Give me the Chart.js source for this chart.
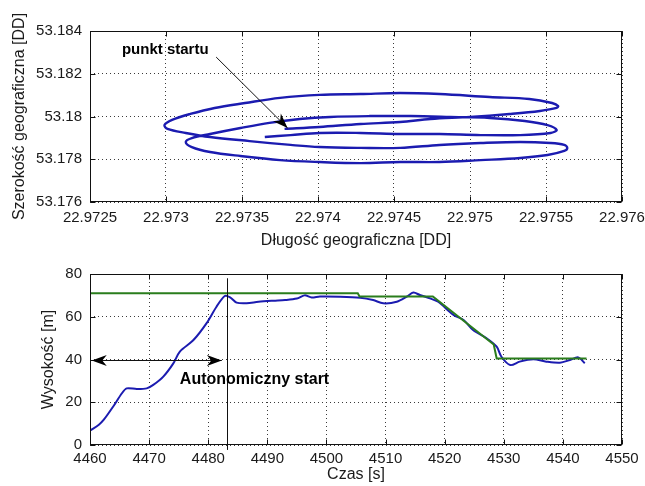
<!DOCTYPE html>
<html>
<head>
<meta charset="utf-8">
<script src="https://cdn.jsdelivr.net/npm/chart.js@4.4.0/dist/chart.umd.min.js"></script>
<style>
	html, body { margin: 0; padding: 0; background: #fff; }
	#wrap { position: relative; width: 645px; height: 486px; }
	canvas { position: absolute; left: 0; }
	#gps { top: 0; }
	#alt { top: 250px; }
</style>
</head>
<body>
<div id="wrap">
	<canvas id="gps" width="645" height="250"></canvas>
	<canvas id="alt" width="645" height="236"></canvas>
</div>
<script>
'use strict';

// GPS track (upper plot).
var gpsLon = [
	22.97378, 22.97401, 22.97428, 22.97454, 22.97474, 22.97500, 22.97526, 22.97546, 22.97557, 22.97558,
	22.97554, 22.97539, 22.97513, 22.97480, 22.97454, 22.97428, 22.97401, 22.97375, 22.97352, 22.97332,
	22.97316, 22.97304, 22.97299, 22.97301, 22.97313, 22.97329, 22.97355, 22.97382, 22.97401, 22.97428,
	22.97454, 22.97480, 22.97507, 22.97533, 22.97553, 22.97562, 22.97564, 22.97562, 22.97551, 22.97533,
	22.97507, 22.97480, 22.97454, 22.97428, 22.97401, 22.97375, 22.97349, 22.97329, 22.97317, 22.97313,
	22.97317, 22.97329, 22.97349, 22.97368, 22.97388, 22.97408, 22.97434, 22.97461, 22.97487, 22.97513,
	22.97536, 22.97551, 22.97557, 22.97553, 22.97533, 22.97507, 22.97480, 22.97454, 22.97428, 22.97401,
	22.97382, 22.97365
];
var gpsLat = [
	53.17942, 53.17951, 53.17965, 53.17974, 53.17988, 53.17998, 53.18012, 53.18026, 53.18040, 53.18049,
	53.18063, 53.18082, 53.18091, 53.18105, 53.18110, 53.18105, 53.18101, 53.18087, 53.18063, 53.18040,
	53.18012, 53.17984, 53.17960, 53.17942, 53.17923, 53.17904, 53.17885, 53.17867, 53.17857, 53.17853,
	53.17853, 53.17867, 53.17876, 53.17881, 53.17876, 53.17867, 53.17853, 53.17839, 53.17820, 53.17806,
	53.17796, 53.17787, 53.17787, 53.17782, 53.17787, 53.17796, 53.17815, 53.17834, 53.17857, 53.17881,
	53.17899, 53.17918, 53.17946, 53.17970, 53.17988, 53.17998, 53.18002, 53.18002, 53.17998, 53.17993,
	53.17979, 53.17960, 53.17937, 53.17923, 53.17913, 53.17913, 53.17918, 53.17918, 53.17923, 53.17923,
	53.17913, 53.17904
];
var lonTicks = [ 22.9725, 22.973, 22.9735, 22.974, 22.9745, 22.975, 22.9755, 22.976 ];
var latTicks = [ 53.176, 53.178, 53.18, 53.182, 53.184 ];

// Altitude (lower plot).
var timeS = [
	4460, 4461.5, 4462.3, 4463.9, 4465.4, 4466.2, 4467.9, 4469.6, 4470.7, 4472.4,
	4474.1, 4475.2, 4477.5, 4479.7, 4481.4, 4482.8, 4483.7, 4484.8, 4486.5, 4488.5,
	4491, 4493, 4495, 4496.3, 4497.5, 4498.9, 4502.3, 4505.7, 4507.9, 4509.6,
	4511.9, 4513.6, 4514.7, 4515.8, 4517.5, 4518.9, 4521.5, 4523.2, 4524.8, 4527.1,
	4528.8, 4529.6, 4531.1, 4532.7, 4535, 4537.2, 4539.5, 4541.2, 4542.6, 4543.7
];
var altM = [
	6.7, 9.5, 11.7, 17.9, 24.2, 26.5, 26.2, 26.5, 28.1, 32,
	38.2, 43.7, 49.1, 56.9, 64.7, 69.7, 69.1, 66.6, 66.3, 67,
	67.5, 67.8, 68.5, 70, 69, 69.5, 69.4, 68.9, 67.8, 66.3,
	67, 69.4, 71.3, 70.2, 68.6, 67, 60.8, 58.5, 53.8, 49.9,
	46, 41.3, 37.4, 39, 40.1, 39, 38.5, 39.8, 41, 38.2
];
var setTime = [ 4460, 4505.3, 4505.6, 4518, 4528.3, 4528.8, 4544 ];
var setAlt  = [ 71, 71, 69.5, 69.5, 47, 40.5, 40.5 ];
var timeTicks = [ 4460, 4470, 4480, 4490, 4500, 4510, 4520, 4530, 4540, 4550 ];
var altTicks  = [ 0, 20, 40, 60, 80 ];

var BLUE  = '#1b1bb0';
var GREEN = '#2a7d1c';
var FONT  = '"Liberation Sans", Arial, sans-serif';

function toPoints( xs, ys ) {
	return xs.map( function ( v, i ) { return { x: v, y: ys[ i ] }; } );
}

function fixedTicks( list ) {
	return function ( scale ) {
		scale.ticks = list.map( function ( v ) { return { value: v }; } );
	};
}

function axis( opts ) {
	return {
		type: 'linear',
		min: opts.min,
		max: opts.max,
		afterBuildTicks: fixedTicks( opts.ticks ),
		afterFit: function ( scale ) {
			if ( opts.width ) { scale.width = opts.width; }
			if ( opts.height ) { scale.height = opts.height; }
			scale.paddingLeft = 0;
			scale.paddingRight = 0;
			scale.paddingTop = 0;
			scale.paddingBottom = 0;
		},
		grid: { color: '#3a3a3a', lineWidth: 1, drawTicks: false },
		border: { display: false, dash: [ 1, 3 ] },
		ticks: {
			autoSkip: false,
			maxRotation: 0,
			padding: opts.pad,
			color: '#1a1a1a',
			font: { family: FONT, size: 15 },
			callback: function ( v ) { return String( v ); }
		},
		title: {
			display: true,
			text: opts.title,
			color: '#1a1a1a',
			font: { family: FONT, size: 16 },
			padding: { top: 0, bottom: opts.titlePad || 0 }
		}
	};
}

function arrowHead( ctx, x, y, angle, len, half ) {
	ctx.save();
	ctx.translate( x, y );
	ctx.rotate( angle );
	ctx.beginPath();
	ctx.moveTo( 0, 0 );
	ctx.lineTo( -len, -half );
	ctx.lineTo( -len * 0.7, 0 );
	ctx.lineTo( -len, half );
	ctx.closePath();
	ctx.fill();
	ctx.restore();
}

// Annotations for each canvas, drawn after the frame.
var annotations = {
	gps: function ( ctx, xs, ys ) {
		var x0 = xs.getPixelForValue( 22.97333 );
		var y0 = ys.getPixelForValue( 53.18278 );
		var x1 = xs.getPixelForValue( 22.97380 );
		var y1 = ys.getPixelForValue( 53.17946 );
		ctx.strokeStyle = '#111';
		ctx.fillStyle = '#000';
		ctx.lineWidth = 1;
		ctx.beginPath();
		ctx.moveTo( x0, y0 );
		ctx.lineTo( x1, y1 );
		ctx.stroke();
		arrowHead( ctx, x1, y1, Math.atan2( y1 - y0, x1 - x0 ), 15, 5.5 );
		ctx.font = 'bold 15px ' + FONT;
		ctx.textAlign = 'left';
		ctx.textBaseline = 'middle';
		ctx.fillText( 'punkt startu', xs.getPixelForValue( 22.97271 ), ys.getPixelForValue( 53.18311 ) );
	},
	alt: function ( ctx, xs, ys ) {
		var vx = Math.round( xs.getPixelForValue( 4483.2 ) ) + 0.5;
		var ay = Math.round( ys.getPixelForValue( 40 ) ) + 0.5;
		var ax0 = xs.getPixelForValue( 4460.3 );
		var ax1 = xs.getPixelForValue( 4482.3 );
		ctx.strokeStyle = '#111';
		ctx.fillStyle = '#000';
		ctx.lineWidth = 1;
		ctx.beginPath();
		ctx.moveTo( vx, ys.getPixelForValue( 78 ) );
		ctx.lineTo( vx, ys.getPixelForValue( -2.3 ) );
		ctx.moveTo( ax0, ay );
		ctx.lineTo( ax1, ay );
		ctx.stroke();
		arrowHead( ctx, ax0, ay, Math.PI, 15, 5.5 );
		arrowHead( ctx, ax1, ay, 0, 15, 5.5 );
		ctx.font = 'bold 16px ' + FONT;
		ctx.textAlign = 'left';
		ctx.textBaseline = 'middle';
		ctx.fillText( 'Autonomiczny start', xs.getPixelForValue( 4475.2 ), ys.getPixelForValue( 30.4 ) );
	}
};

// Box round the plot area with short inward ticks, as in the original.
var framePlugin = {
	id: 'frame',
	afterDraw: function ( chart ) {
		var ctx = chart.ctx;
		var a = chart.chartArea;
		var xs = chart.scales.x;
		var ys = chart.scales.y;
		var l = Math.round( a.left ) + 0.5;
		var r = Math.round( a.right ) - 0.5;
		var t = Math.round( a.top ) + 0.5;
		var b = Math.round( a.bottom ) - 0.5;
		ctx.save();
		ctx.strokeStyle = '#111';
		ctx.lineWidth = 1;
		ctx.beginPath();
		xs.ticks.forEach( function ( tk ) {
			var px = Math.round( xs.getPixelForValue( tk.value ) ) + 0.5;
			ctx.moveTo( px, b ); ctx.lineTo( px, b - 5 );
			ctx.moveTo( px, t ); ctx.lineTo( px, t + 5 );
		} );
		ys.ticks.forEach( function ( tk ) {
			var py = Math.round( ys.getPixelForValue( tk.value ) ) + 0.5;
			ctx.moveTo( l, py ); ctx.lineTo( l + 5, py );
			ctx.moveTo( r, py ); ctx.lineTo( r - 5, py );
		} );
		ctx.stroke();
		ctx.strokeRect( l, t, r - l, b - t );
		ctx.restore();

		var draw = annotations[ chart.canvas.id ];
		if ( draw ) {
			ctx.save();
			draw( ctx, xs, ys );
			ctx.restore();
		}
	}
};

// Upper plot: GPS track.
new Chart( document.getElementById( 'gps' ), {
	type: 'scatter',
	data: {
		datasets: [ {
			data: toPoints( gpsLon, gpsLat ),
			showLine: true,
			borderColor: BLUE,
			borderWidth: 2.4,
			pointRadius: 0,
			tension: 0.35,
			fill: false
		} ]
	},
	options: {
		responsive: false,
		animation: false,
		devicePixelRatio: 1,
		layout: { padding: { top: 31, right: 23, left: 10, bottom: 0 } },
		plugins: { legend: { display: false }, tooltip: { enabled: false } },
		scales: {
			x: axis( { min: 22.9725, max: 22.976, ticks: lonTicks, height: 48, pad: 7, title: 'Długość geograficzna [DD]' } ),
			y: axis( { min: 53.176, max: 53.184, ticks: latTicks, width: 80, pad: 8, title: 'Szerokość geograficzna [DD]' } )
		}
	},
	plugins: [ framePlugin ]
} );

// Lower plot: altitude against time.
new Chart( document.getElementById( 'alt' ), {
	type: 'scatter',
	data: {
		datasets: [ {
			data: toPoints( setTime, setAlt ),
			showLine: true,
			borderColor: GREEN,
			borderWidth: 2,
			pointRadius: 0,
			tension: 0,
			order: 0
		}, {
			data: toPoints( timeS, altM ),
			showLine: true,
			borderColor: BLUE,
			borderWidth: 2,
			pointRadius: 0,
			tension: 0.3,
			order: 1
		} ]
	},
	options: {
		responsive: false,
		animation: false,
		devicePixelRatio: 1,
		layout: { padding: { top: 24, right: 23, left: 39, bottom: 0 } },
		plugins: { legend: { display: false }, tooltip: { enabled: false } },
		scales: {
			x: axis( { min: 4460, max: 4550, ticks: timeTicks, height: 41, pad: 5, titlePad: 2, title: 'Czas [s]' } ),
			y: axis( { min: 0, max: 80, ticks: altTicks, width: 51, pad: 8, title: 'Wysokość [m]' } )
		}
	},
	plugins: [ framePlugin ]
} );
</script>
</body>
</html>
